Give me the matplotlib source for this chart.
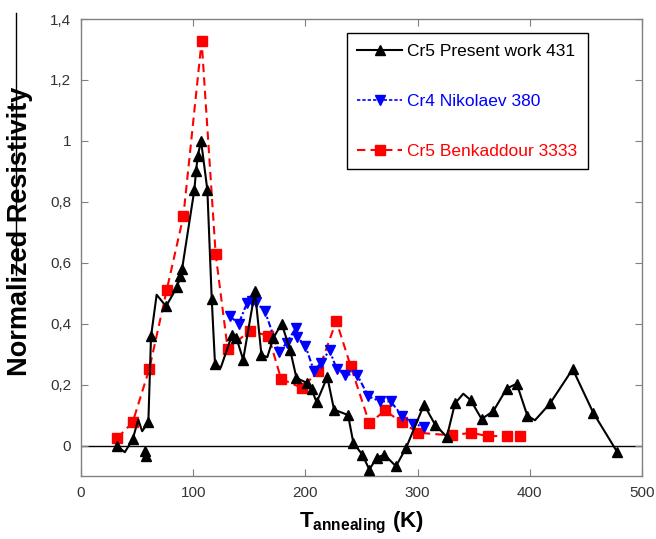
import matplotlib
matplotlib.use("Agg")
from matplotlib import pyplot as plt
from matplotlib.lines import Line2D

plt.rcParams['font.family'] = ['Liberation Sans', 'DejaVu Sans']
plt.rcParams['mathtext.fontset'] = 'custom'
plt.rcParams['mathtext.rm'] = 'Liberation Sans'
plt.rcParams['mathtext.bf'] = 'Liberation Sans:bold'

# Cr5 present work (black); marked = whether a triangle is drawn on that vertex
cr5_x = [31.8, 39, 46, 51, 54.5, 60, 62.4, 67.4, 75.8, 85.5, 88.5, 90,
         101, 102.5, 104, 107, 112.6, 116.5, 119.4, 124.5, 134.5, 138.5, 144.5,
         155, 160.8, 166, 171.4, 178.8, 186.3, 192, 201, 205.6, 210, 219.5,
         225.5, 238, 242.7, 250.7, 257, 263.5, 270.3, 280.7, 289.7, 305.7,
         315.5, 326, 333.3, 340.7, 347.3, 357, 367.5, 379.4, 388.3, 397.8,
         404.6, 418, 438.2, 456.6, 478]
cr5_y = [0.0, -0.022, 0.02, 0.085, 0.047, 0.076, 0.358, 0.495, 0.457, 0.52,
         0.555, 0.578, 0.839, 0.9, 0.95, 1.0, 0.839, 0.481, 0.269, 0.255,
         0.362, 0.353, 0.282, 0.506, 0.298, 0.29, 0.353, 0.40, 0.315, 0.222,
         0.206, 0.184, 0.142, 0.225, 0.118, 0.10, 0.009, -0.03, -0.079, -0.04,
         -0.03, -0.068, -0.008, 0.134, 0.069, 0.028, 0.138, 0.17, 0.149, 0.087,
         0.113, 0.187, 0.203, 0.098, 0.083, 0.138, 0.251, 0.107, -0.022]
cr5_marked = [1, 0, 1, 0, 0, 1, 1, 0, 1, 1, 1, 1, 1, 1, 1, 1, 1, 1, 1, 0,
              1, 1, 1, 1, 1, 0, 1, 1, 1, 1, 1, 1, 1, 1, 1, 1, 1, 1, 1, 1,
              1, 1, 1, 1, 1, 1, 1, 0, 1, 1, 1, 1, 1, 1, 0, 1, 1, 1, 1]
# two loose points below zero
cr5_extra_x = [57, 58]
cr5_extra_y = [-0.018, -0.035]

# Cr4 Nikolaev (blue)
cr4_x = [132.5, 140.5, 148, 152, 156, 164, 176.5, 183.5, 191.5, 192.5, 200,
         207.5, 213.5, 221.5, 228, 235.5, 246, 256, 266.5, 276, 286, 296, 305.5]
cr4_y = [0.425, 0.40, 0.468, 0.473, 0.47, 0.44, 0.307, 0.338, 0.386, 0.356,
         0.327, 0.246, 0.27, 0.313, 0.25, 0.233, 0.233, 0.162, 0.145, 0.145,
         0.098, 0.072, 0.061]

# Cr5 Benkaddour (red)
ben_x = [32.4, 46, 60.9, 76.3, 91.2, 107.5, 120, 130.7, 150.6, 167, 178.3,
         196.7, 211.5, 227.5, 240.4, 257, 271, 285.8, 300.6, 331, 347.3,
         362.5, 379.4, 391.3]
ben_y = [0.025, 0.076, 0.252, 0.509, 0.752, 1.328, 0.628, 0.317, 0.377, 0.36,
         0.219, 0.189, 0.244, 0.409, 0.26, 0.073, 0.115, 0.076, 0.042, 0.033,
         0.042, 0.031, 0.031, 0.031]

yticks = [0, 0.2, 0.4, 0.6, 0.8, 1.0, 1.2, 1.4]
ytick_labels = ['0', '0,2', '0,4', '0,6', '0,8', '1', '1,2', '1,4']
xticks = [0, 100, 200, 300, 400, 500]

fig = plt.figure(figsize=(6.56, 5.39), dpi=100)
ax = fig.add_axes([0.1235, 0.1169, 0.8552, 0.8478])

ax.axhline(0, color='black', lw=1.0, zorder=1)

ax.plot(ben_x, ben_y, color='red', ls=(0, (4, 2.5)), lw=1.5, marker='s',
        ms=6.5, label='Cr5 Benkaddour 3333', zorder=2)
ax.plot(cr4_x, cr4_y, color='blue', ls=(0, (3, 1.2, 1, 1.2)), lw=1.5, marker='v',
        ms=6.5, label='Cr4 Nikolaev 380', zorder=3)
marks = [i for i, m in enumerate(cr5_marked) if m]
ax.plot(cr5_x, cr5_y, color='black', ls='-', lw=1.5, marker='^', ms=6.5,
        markevery=marks, label='Cr5 Present work 431', zorder=4)
ax.plot(cr5_extra_x, cr5_extra_y, ls='none', color='black', marker='^', ms=6.5,
        zorder=4)

ax.set_xlim(0, 500)
ax.set_ylim(-0.1, 1.4)
ax.set_xticks(xticks)
ax.set_yticks(yticks)
ax.set_yticklabels(ytick_labels)
ax.tick_params(direction='in', top=True, right=True, length=5, width=0.8,
               color='#808080', labelsize=11, labelcolor='#333333', pad=7)
for s in ax.spines.values():
    s.set_color('#808080')
    s.set_linewidth(1.0)

ax.set_ylabel('Normalized Resistivity', fontsize=19.5, fontweight='bold')
ax.yaxis.set_label_coords(-0.086, 0.536)
ax.set_xlabel(r'$\mathbf{T}_{\mathbf{annealing}}$ (K)', fontsize=16,
              fontweight='bold', labelpad=7)

handles = [
    Line2D([], [], color='black', ls='-', lw=1.5, marker='^', ms=6.5),
    Line2D([], [], color='blue', ls=(0, (2, 1.2)), lw=1.2, marker='v', ms=6.5),
    Line2D([], [], color='red', ls=(0, (4, 2.5)), lw=1.5, marker='s', ms=6.5),
]
labels = ['Cr5 Present work 431', 'Cr4 Nikolaev 380', 'Cr5 Benkaddour 3333']
leg = ax.legend(handles, labels, loc='upper left',
                bbox_to_anchor=(346.7 / 656, 1 - 33.3 / 539),
                bbox_transform=fig.transFigure, fontsize=12.5,
                labelspacing=2.0, handlelength=2.6, handletextpad=0.3,
                borderpad=0.6, fancybox=False, framealpha=1, borderaxespad=0)
leg.get_frame().set_edgecolor('black')
leg.get_frame().set_linewidth(1.0)
for t, c in zip(leg.get_texts(), ['black', 'blue', 'red']):
    t.set_color(c)

# stray vertical rule at the left edge of the original image
fig.add_artist(Line2D([16 / 656, 16 / 656], [1 - 13 / 539, 1 - 275 / 539],
                      color='black', lw=1.0, transform=fig.transFigure))

fig.savefig('out.png', dpi=100)
